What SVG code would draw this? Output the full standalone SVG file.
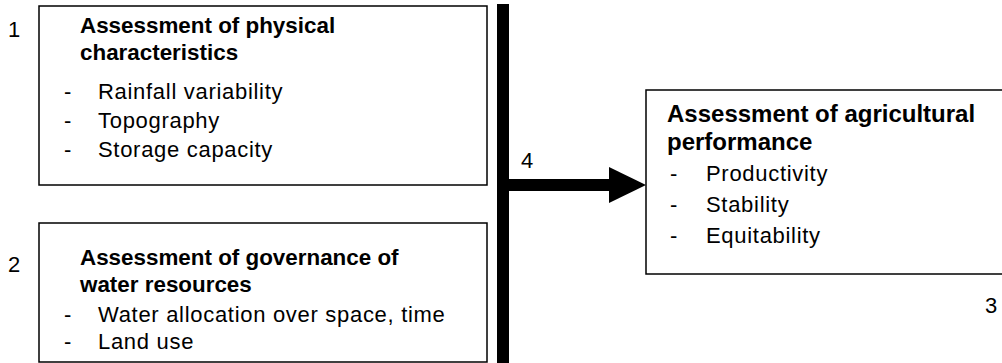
<svg xmlns="http://www.w3.org/2000/svg" width="1002" height="363" viewBox="0 0 1002 363">
<style>
.box{fill:#fff;stroke:#000;stroke-width:1.5}
.b{font-family:"Liberation Sans",Arial,sans-serif;font-weight:bold;font-size:22.4px;fill:#000}
.b3{font-family:"Liberation Sans",Arial,sans-serif;font-weight:bold;font-size:24px;fill:#000}
.r{font-family:"Liberation Sans",Arial,sans-serif;font-size:22px;letter-spacing:0.7px;fill:#000}
.n{font-family:"Liberation Sans",Arial,sans-serif;font-size:22px;fill:#000}
</style>
<rect width="1002" height="363" fill="#fff"/>
<g id="node1">
<rect class="box" x="39" y="6" width="448" height="179"/>
<text class="n" x="8" y="37">1</text>
<text class="b" x="80" y="33">Assessment of physical</text>
<text class="b" x="80" y="60">characteristics</text>
<text class="r" x="64" y="99">-</text><text class="r" x="98" y="99">Rainfall variability</text>
<text class="r" x="64" y="128">-</text><text class="r" x="98" y="128">Topography</text>
<text class="r" x="64" y="157">-</text><text class="r" x="98" y="157">Storage capacity</text>
</g>
<g id="node2">
<rect class="box" x="39" y="223" width="448" height="139"/>
<text class="n" x="8" y="272">2</text>
<text class="b" x="80" y="265">Assessment of governance of</text>
<text class="b" x="80" y="292">water resources</text>
<text class="r" x="64" y="322">-</text><text class="r" x="98" y="322">Water allocation over space, time</text>
<text class="r" x="64" y="349">-</text><text class="r" x="98" y="349">Land use</text>
</g>
<g id="node3">
<rect class="box" x="646" y="90" width="370" height="184"/>
<text class="b3" x="667" y="122">Assessment of agricultural</text>
<text class="b3" x="667" y="150">performance</text>
<text class="r" x="670" y="181">-</text><text class="r" x="706" y="181">Productivity</text>
<text class="r" x="670" y="212">-</text><text class="r" x="706" y="212">Stability</text>
<text class="r" x="670" y="243">-</text><text class="r" x="706" y="243">Equitability</text>
<text class="n" x="985" y="313">3</text>
</g>
<g id="connectors">
<rect x="497" y="4" width="12" height="360" fill="#000"/>
<rect x="509" y="179" width="102" height="12" fill="#000"/>
<polygon points="609,167 646,185 609,203" fill="#000"/>
<text class="n" x="521" y="168">4</text>
</g>
</svg>
